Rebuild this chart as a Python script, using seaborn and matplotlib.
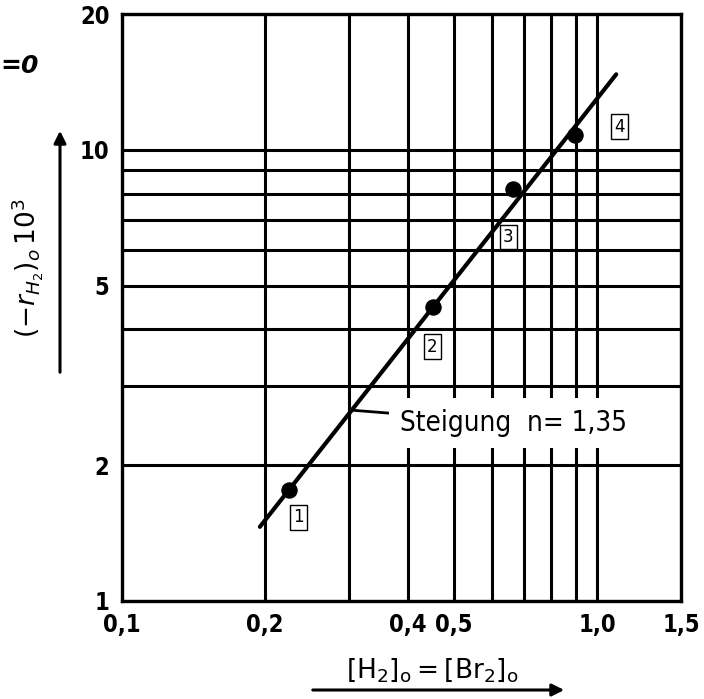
import seaborn as sns
import matplotlib.pyplot as plt
from matplotlib.ticker import FixedLocator, NullFormatter

conc = [0.225, 0.452, 0.666, 0.899]      # [H2]o = [Br2]o
rate = [1.76, 4.49, 8.19, 10.8]          # (-r_H2)o * 10^3
run_labels = ['1', '2', '3', '4']

## fitted straight line, slope n = 1.35
fit_x = [0.195, 1.096]
fit_y = [1.46, 14.7]

x_major = [0.1, 0.2, 0.4, 0.5, 1.0, 1.5]
x_major_labels = ['0,1', '0,2', '0,4', '0,5', '1,0', '1,5']
x_minor = [0.3, 0.6, 0.7, 0.8, 0.9]
y_major = [1, 2, 5, 10, 20]
y_major_labels = ['1', '2', '5', '10', '20']
y_minor = [3, 4, 6, 7, 8, 9]

sns.set_style('white')
plt.rcParams['font.family'] = ['DejaVu Sans']
plt.rcParams['mathtext.fontset'] = 'dejavusans'
plt.rcParams['text.color'] = 'black'
plt.rcParams['xtick.color'] = 'black'
plt.rcParams['ytick.color'] = 'black'

W, H = 704, 699
fig = plt.figure(figsize=(W / 100, H / 100), dpi=100)
ax = fig.add_axes([122 / W, 1 - 601 / H, 559 / W, 587 / H])
ax.set_xscale('log')
ax.set_yscale('log')

sns.lineplot(x=fit_x, y=fit_y, color='black', lw=3.0, ax=ax, zorder=3)
sns.scatterplot(x=conc, y=rate, color='black', s=120, edgecolor='black', ax=ax, zorder=4)

ax.set_xlim(0.1, 1.5)
ax.set_ylim(1, 20)

ax.xaxis.set_major_locator(FixedLocator(x_major))
ax.xaxis.set_minor_locator(FixedLocator(x_minor))
ax.yaxis.set_major_locator(FixedLocator(y_major))
ax.yaxis.set_minor_locator(FixedLocator(y_minor))
ax.set_xticklabels(x_major_labels)
ax.set_yticklabels(y_major_labels)
ax.xaxis.set_minor_formatter(NullFormatter())
ax.yaxis.set_minor_formatter(NullFormatter())
ax.tick_params(which='both', length=0)
ax.tick_params(axis='x', pad=9, labelsize=17)
ax.tick_params(axis='y', pad=9, labelsize=17)
for lab in ax.get_xticklabels() + ax.get_yticklabels():
    lab.set_fontweight('bold')
    lab.set_fontstretch('condensed')

ax.grid(which='both', color='black', lw=2.2)
ax.set_axisbelow(True)
for sp in ax.spines.values():
    sp.set_visible(True)
    sp.set_color('black')
    sp.set_linewidth(2.4)

## boxed run numbers next to the points
offsets = [(9, -27), (-1, -40), (-5, -48), (44, 8)]
for xv, yv, lab, off in zip(conc, rate, run_labels, offsets):
    ax.annotate(lab, (xv, yv), xytext=off, textcoords='offset pixels',
                ha='center', va='center', fontsize=12,
                bbox=dict(boxstyle='square,pad=0.2', fc='white', ec='black', lw=1.0),
                zorder=6)

## slope annotation
ax.annotate('Steigung  n= 1,35', (0.302, 2.65), xytext=(50, -13),
            textcoords='offset pixels', ha='left', va='center', fontsize=20,
            fontstretch='condensed',
            bbox=dict(boxstyle='square,pad=0.4', fc='white', ec='none'),
            arrowprops=dict(arrowstyle='-', color='black', lw=2.0,
                            shrinkA=0, shrinkB=0),
            zorder=6)

## axis titles with arrows
fig.text(28 / W, 1 - 268 / H, r'$(-r_{H_2})_o\,10^3$', rotation=90,
         ha='center', va='center', fontsize=19)
ax.annotate('', xy=(60, H - 128), xycoords='figure pixels',
            xytext=(60, H - 375), textcoords='figure pixels',
            arrowprops=dict(arrowstyle='-|>', color='black', lw=2.2,
                            mutation_scale=18), annotation_clip=False)
fig.text(432 / W, 1 - 670 / H, r'$\mathrm{[H_2]_o = [Br_2]_o}$',
         ha='center', va='center', fontsize=19)
ax.annotate('', xy=(567, H - 690), xycoords='figure pixels',
            xytext=(310, H - 690), textcoords='figure pixels',
            arrowprops=dict(arrowstyle='-|>', color='black', lw=2.2,
                            mutation_scale=18), annotation_clip=False)

fig.text(0, 1 - 66 / H, '=0', ha='left', va='center', fontsize=18,
         fontweight='bold', fontstyle='italic')

fig.savefig('out.png', dpi=100)
